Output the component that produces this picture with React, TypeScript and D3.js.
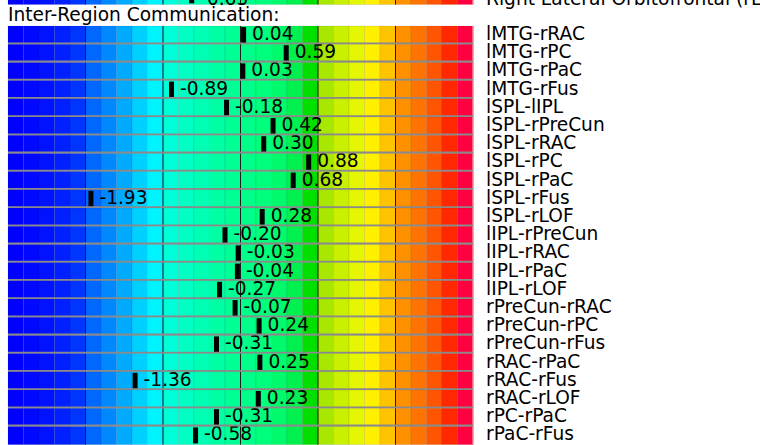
import React from "react";
import * as d3 from "d3";

// Pairwise connections between regions and their scores
const pairLabels: string[] = [
  "lMTG-rRAC", "lMTG-rPC", "lMTG-rPaC", "lMTG-rFus", "lSPL-lIPL", "lSPL-rPreCun",
  "lSPL-rRAC", "lSPL-rPC", "lSPL-rPaC", "lSPL-rFus", "lSPL-rLOF", "lIPL-rPreCun",
  "lIPL-rRAC", "lIPL-rPaC", "lIPL-rLOF", "rPreCun-rRAC", "rPreCun-rPC", "rPreCun-rFus",
  "rRAC-rPaC", "rRAC-rFus", "rRAC-rLOF", "rPC-rPaC", "rPaC-rFus",
];
const pairValues: number[] = [
  0.04, 0.59, 0.03, -0.89, -0.18, 0.42, 0.3, 0.88, 0.68, -1.93, 0.28, -0.2,
  -0.03, -0.04, -0.27, -0.07, 0.24, -0.31, 0.25, -1.36, 0.23, -0.31, -0.58,
];

// Last row of the preceding (single-region) section
const prevLabel = "Right Lateral Orbitofrontal (rLOF)";
const prevValue = -0.63;

const sectionTitle = "Inter-Region Communication:";
const scaleDomain: [number, number] = [-3, 3];
const scaleMajorTicks: number[] = [-2, -1, 0, 1, 2];

// Jet-like palette, one colour per fifth of a unit
const palette: string[] = [
  "#0000ff", "#0008ff", "#0012ff", "#0020ff", "#0034ff",
  "#0068ff", "#0088ff", "#00aaff", "#00d0ff", "#00f4ff",
  "#00ffd8", "#00ffc4", "#00ffb4", "#00ffa4", "#00ff94",
  "#00ff88", "#00ff7c", "#00fa6c", "#00f050", "#00e000",
  "#a8e800", "#c8f000", "#e4f600", "#fff000", "#ffc400",
  "#ff9000", "#ff7400", "#ff5400", "#ff2800", "#ff0040",
];

const W = 760;
const H = 445;
const FONT = "'DejaVu Sans', sans-serif";
const FS = 18.6;

const x = d3.scaleLinear().domain(scaleDomain).range([8, 473]);
const y = d3
  .scaleBand<string>()
  .domain(pairLabels)
  .range([26, 26 + pairLabels.length * 18.2])
  .paddingInner(0);

const cellStep = (scaleDomain[1] - scaleDomain[0]) / palette.length;

function GradientBar({ top, height }: { top: number; height: number }) {
  return (
    <g>
      {palette.map((c, i) => {
        const x0 = x(scaleDomain[0] + i * cellStep);
        const x1 = x(scaleDomain[0] + (i + 1) * cellStep);
        return (
          <rect
            key={i}
            x={x0}
            y={top}
            width={x1 - x0}
            height={height}
            fill={c}
            stroke="rgba(0,0,0,0.1)"
            strokeWidth={0.8}
          />
        );
      })}
      {scaleMajorTicks.map((t) => (
        <line
          key={t}
          x1={x(t)}
          x2={x(t)}
          y1={top}
          y2={top + height}
          stroke="#1a1a1a"
          strokeWidth={1}
        />
      ))}
      <line
        x1={x(scaleDomain[1])}
        x2={x(scaleDomain[1])}
        y1={top}
        y2={top + height}
        stroke="#ff8a9a"
        strokeWidth={1.5}
      />
    </g>
  );
}

function Row({
  top,
  height,
  value,
  label,
  baseline,
}: {
  top: number;
  height: number;
  value: number;
  label: string;
  baseline: number;
}) {
  const px = x(value);
  return (
    <g>
      <GradientBar top={top} height={height} />
      <rect x={px - 2.5} y={top + 1} width={5} height={height - 2.2} fill="#000" />
      <text x={px + 8.5} y={baseline} fontFamily={FONT} fontSize={FS} fill="#000">
        {value.toFixed(2)}
      </text>
      <text x={486} y={baseline} fontFamily={FONT} fontSize={FS} fill="#000">
        {label}
      </text>
    </g>
  );
}

export default function App() {
  const bw = y.bandwidth();
  return (
    <svg
      width={W}
      height={H}
      viewBox={`0 0 ${W} ${H}`}
      style={{ position: "absolute", left: 0, top: 0, background: "#fff" }}
    >
      {/* tail of the previous section */}
      <Row top={-13} height={17.5} value={prevValue} label={prevLabel} baseline={5} />

      <text x={8} y={21} fontFamily={FONT} fontSize={FS} fill="#000">
        {sectionTitle}
      </text>

      {pairLabels.map((lab, i) => {
        const top = y(lab) as number;
        return (
          <Row
            key={lab}
            top={top}
            height={bw}
            value={pairValues[i]}
            label={lab}
            baseline={top + 14}
          />
        );
      })}

      {/* grey separators between rows */}
      {pairLabels.slice(1).map((lab) => {
        const yy = (y(lab) as number) - 0.9;
        return (
          <line
            key={"sep-" + lab}
            x1={x(scaleDomain[0])}
            x2={x(scaleDomain[1])}
            y1={yy}
            y2={yy}
            stroke="#8a8a8a"
            strokeWidth={1.8}
          />
        );
      })}
    </svg>
  );
}
